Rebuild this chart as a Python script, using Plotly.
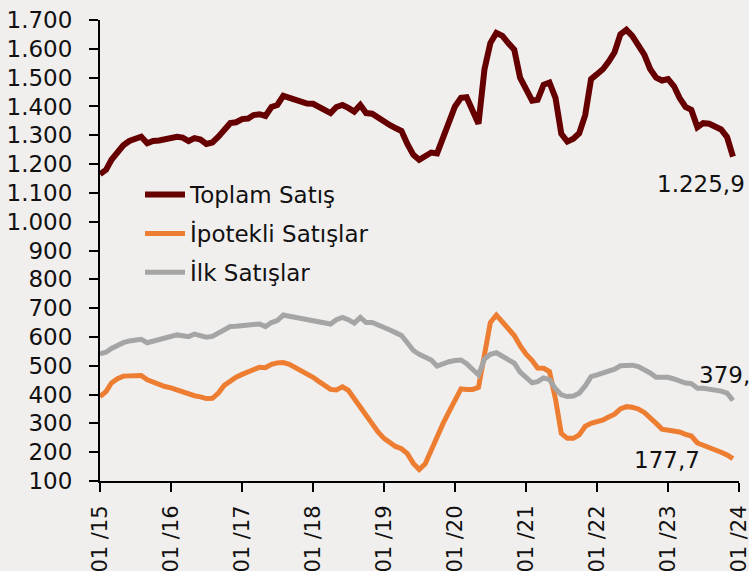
import pandas as pd
import plotly.graph_objects as go

months = pd.date_range("2015-01-01", periods=108, freq="MS")

toplam = [1165, 1180, 1215, 1245, 1265, 1280, 1290, 1295, 1272, 1280, 1282, 1287,
          1288, 1295, 1292, 1280, 1290, 1285, 1270, 1275, 1295, 1320, 1342, 1345,
          1356, 1358, 1370, 1373, 1367, 1398, 1405, 1437, 1430, 1423, 1412, 1410,
          1409, 1398, 1385, 1377, 1398, 1405, 1395, 1382, 1405, 1377, 1375, 1360,
          1345, 1335, 1325, 1315, 1270, 1232, 1215, 1225, 1240, 1237, 1290, 1353,
          1400, 1430, 1432, 1385, 1340, 1530, 1620, 1655, 1645, 1620, 1597, 1500,
          1460, 1420, 1423, 1475, 1483, 1430, 1305, 1278, 1288, 1307, 1370, 1495,
          1512, 1530, 1555, 1588, 1650, 1666, 1645, 1615, 1580, 1530, 1500, 1490,
          1495, 1470, 1430, 1398, 1388, 1328, 1342, 1340, 1330, 1320, 1293, 1225.9]

ipotekli = [393, 410, 440, 455, 464, 466, 466, 466, 451, 442, 434, 428,
            423, 416, 407, 400, 396, 392, 386, 387, 405, 432, 447, 460,
            470, 480, 488, 495, 493, 505, 510, 511, 505, 495, 482, 470,
            460, 445, 430, 418, 416, 427, 415, 385, 358, 325, 294, 270,
            248, 232, 220, 212, 195, 161, 140, 160, 210, 254, 300, 340,
            385, 420, 418, 418, 425, 543, 650, 676, 650, 625, 605, 570,
            540, 518, 492, 491, 480, 385, 265, 248, 248, 260, 290, 300,
            305, 312, 322, 332, 350, 358, 356, 350, 338, 322, 300, 280,
            277, 275, 270, 262, 256, 232, 225, 218, 210, 200, 190, 177.7]

ilk = [541, 547, 560, 572, 580, 586, 590, 592, 580, 585, 592, 597,
       602, 607, 604, 601, 610, 606, 599, 602, 613, 625, 636, 637,
       638, 641, 643, 645, 636, 650, 657, 676, 672, 668, 664, 661,
       660, 655, 650, 645, 660, 668, 660, 648, 668, 650, 650, 640,
       630, 624, 615, 605, 580, 553, 540, 530, 520, 499, 508, 514,
       518, 520, 507, 485, 468, 523, 540, 545, 532, 520, 509, 478,
       460, 441, 445, 458, 452, 420, 399, 393, 395, 405, 430, 462,
       468, 474, 480, 488, 500, 503, 502, 497, 488, 475, 460, 460,
       460, 454, 447, 440, 438, 422, 422, 420, 416, 412, 405, 379.4]

series_names = ["Toplam Satış", "İpotekli Satışlar", "İlk Satışlar"]
series_colors = ["#660000", "#ED7D31", "#A5A5A5"]

tick_dates = pd.date_range("2015-01-01", "2024-01-01", freq="YS")
tick_labels = ["01 /15", "01 /16", "01 /17", "01 /18", "01 /19",
               "01 /20", "01 /21", "01 /22", "01 /23", "01 /24"]

end_labels = ["1.225,9", "177,7", "379,4"]

FONT = "DejaVu Sans"
BG = "#F1EFEE"

fig = go.Figure()
for i, (name, vals, col, w) in enumerate(zip(series_names, [toplam, ipotekli, ilk],
                                             series_colors, [6, 5, 5])):
    fig.add_trace(go.Scatter(x=months, y=vals, mode="lines", name=name,
                             legendgroup=f"g{i}",
                             line=dict(color=col, width=w)))

ann_font = dict(family=FONT, size=23, color="#111")
# end-value labels (paper coords; plot area spans x 100..739, y 20..481)
fig.add_annotation(xref="paper", yref="paper", x=(747 - 100) / 639, y=1 - (184 - 20) / 461,
                   text=end_labels[0], showarrow=False, xanchor="right", yanchor="middle",
                   font=ann_font)
fig.add_annotation(xref="paper", yref="paper", x=(702 - 100) / 639, y=1 - (460 - 20) / 461,
                   text=end_labels[1], showarrow=False, xanchor="right", yanchor="middle",
                   font=ann_font)
fig.add_annotation(xref="paper", yref="paper", x=(697 - 100) / 639, y=1 - (375 - 20) / 461,
                   text=end_labels[2], showarrow=False, xanchor="left", yanchor="middle",
                   font=ann_font)

fig.update_layout(
    width=749, height=571,
    margin=dict(l=100, r=10, t=20, b=90),
    paper_bgcolor=BG, plot_bgcolor=BG,
    font=dict(family=FONT, size=23, color="#111"),
    separators=",.",
    showlegend=True,
    legend=dict(x=0.0626, y=0.668, xanchor="left", yanchor="top", traceorder="grouped",
                tracegroupgap=6,
                bgcolor="rgba(0,0,0,0)", font=dict(family=FONT, size=23, color="#111"),
                itemwidth=40),
    xaxis=dict(range=[tick_dates[0], tick_dates[-1] + pd.Timedelta(hours=2)],
               tickvals=tick_dates, ticktext=tick_labels, automargin=False,
               ticklabeloverflow="allow", tickfont=dict(family=FONT, size=21, color="#111"),
               tickangle=-90, showgrid=False, zeroline=False, showline=True, linecolor="#000",
               linewidth=2, ticks="outside", ticklen=9, tickwidth=2, tickcolor="#000",
               ticklabelstandoff=5),
    yaxis=dict(range=[100, 1700], tick0=100, dtick=100, tickformat=",d", showgrid=False,
               automargin=False,
               zeroline=False, showline=True, linecolor="#000", linewidth=2,
               ticks="outside", ticklen=9, tickwidth=2, tickcolor="#000",
               ticklabelstandoff=12),
)

fig.write_html("out.html",
               config={"displayModeBar": False},
               post_script="document.body.style.margin='0';"
                           "document.body.style.background='#F1EFEE';"
                           "document.body.style.overflow='hidden';")
